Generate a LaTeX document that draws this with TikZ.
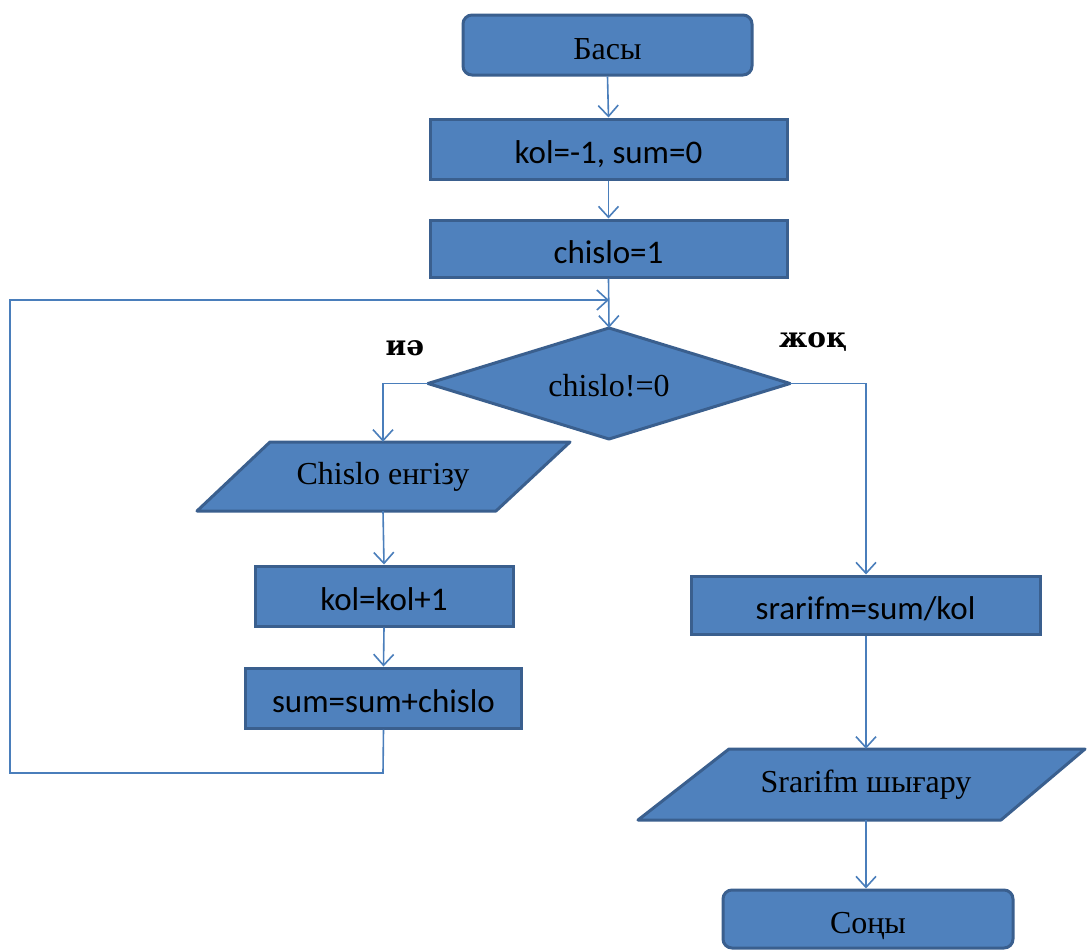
\documentclass[tikz,border=0pt]{standalone}
\usepackage{fontspec}
\setmainfont{Liberation Serif}
\newfontfamily\calib{Carlito}
\newfontfamily\lblfont{DejaVu Serif}
\usetikzlibrary{shapes.geometric,arrows.meta}
\definecolor{boxfill}{HTML}{4F81BD}
\definecolor{boxline}{HTML}{3A5F8E}
\definecolor{linecol}{HTML}{4A7EBB}
\tikzset{
  box/.style={draw=boxline, fill=boxfill, line width=3pt, inner sep=0pt, text=black, text height=29pt, text depth=0pt},
  proc/.style={box, rectangle, font=\calib\fontsize{33}{38}\selectfont},
  term/.style={box, rectangle, rounded corners=9pt, font=\fontsize{32}{38}\selectfont},
  io/.style={inner sep=0pt, font=\fontsize{32}{38}\selectfont},
  iobox/.style={draw=boxline, fill=boxfill, line width=3pt, line join=round},
  conn/.style={draw=linecol, line width=1.6pt, -{Straight Barb[length=11pt,width=20pt,line width=1.6pt]}},
  lbl/.style={font=\lblfont\bfseries\fontsize{28}{32}\selectfont}
}
\begin{document}
\begin{tikzpicture}[x=1pt,y=-1pt]
\useasboundingbox (0,0) rectangle (1088,951);
\fill[white] (0,0) rectangle (1088,951);
% nodes
\node[term, minimum width=289pt, minimum height=60pt] (start) at (607.5,45) {Басы};
\node[proc, minimum width=357pt, minimum height=60pt] (init) at (608.5,149) {kol=-1, sum=0};
\node[proc, minimum width=357pt, minimum height=57pt] (ch1) at (608.5,248.5) {chislo=1};
% decision diamond
\path[iobox] (609,328) -- (790,383.5) -- (609,439) -- (428,383.5) -- cycle;
\node[io, minimum width=362pt, minimum height=111pt, text height=26pt, text depth=0pt] (dec) at (609,383.5) {chislo!=0};
% input parallelogram
\path[iobox] (270,442) -- (570,442) -- (496,511) -- (197,511) -- cycle;
\node[io, minimum width=220pt, minimum height=69pt] (inp) at (383,476.5) {Chislo енгізу};
\node[proc, minimum width=258pt, minimum height=60pt] (inc) at (384,596) {kol=kol+1};
\node[proc, minimum width=276pt, minimum height=60pt] (acc) at (383.5,698) {sum=sum+chislo};
\node[proc, minimum width=349pt, minimum height=58pt] (avg) at (865.5,605) {srarifm=sum/kol};
% output parallelogram
\path[iobox] (729,749) -- (1085,749) -- (1001,820) -- (638,820) -- cycle;
\node[io, minimum width=260pt, minimum height=71pt] (out) at (866,784.5) {Srarifm шығару};
\node[term, minimum width=290pt, minimum height=58pt] (stop) at (868,919) {Соңы};
% labels
\node[lbl] (yes) at (405,348) {иә};
\node[lbl] (no) at (813,342) {жоқ};
% connectors
\coordinate (loopB) at (383,773);
\coordinate (loopL) at (10,773);
\coordinate (loopT) at (10,300);
\coordinate (merge) at (609,300);
\coordinate (decL) at (383,383.5);
\coordinate (decR) at (866,383.5);
\draw[conn] (start.south) -- (init.north);
\draw[conn] (init.south) -- (ch1.north);
\draw[conn] (ch1.south) -- (dec.north);
\draw[conn] (acc.south) -- (loopB) -- (loopL) -- (loopT) -- (merge);
\draw[conn] (dec.west) -- (decL) -- (inp.north);
\draw[conn] (inp.south) -- (inc.north);
\draw[conn] (inc.south) -- (acc.north);
\draw[conn] (dec.east) -- (decR) -- (avg.north -| decR);
\draw[conn] (avg.south -| decR) -- (out.north);
\draw[conn] (out.south) -- (out.south |- stop.north);
\end{tikzpicture}
\end{document}
